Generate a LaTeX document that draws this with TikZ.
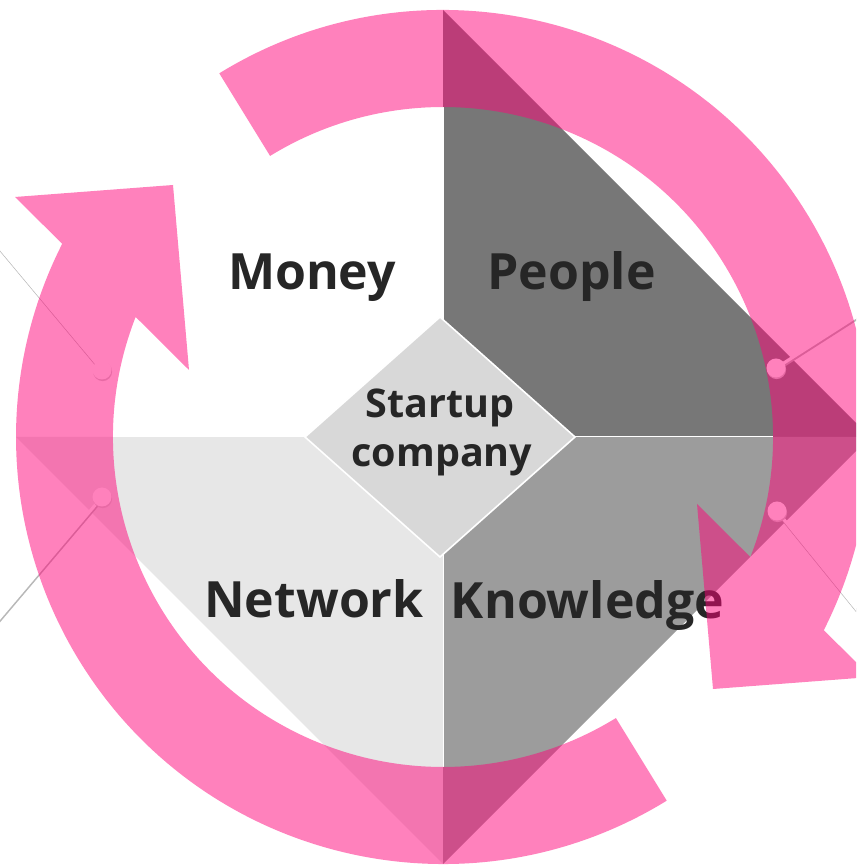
\documentclass[tikz,border=0pt]{standalone}
\usepackage{fontspec}
\usetikzlibrary{calc}
\setmainfont{Open Sans}
\definecolor{arrowpink}{RGB}{255,4,122}
\definecolor{txt}{RGB}{38,38,38}
\definecolor{qdark}{RGB}{119,119,119}
\definecolor{qmid}{RGB}{156,156,156}
\definecolor{qlight}{RGB}{231,231,231}
\definecolor{hub}{RGB}{216,216,216}
\begin{document}
\begin{tikzpicture}[x=1pt,y=1pt,
  sepline/.style={draw=white, line width=1pt},
  hubshape/.style={fill=hub, draw=white, line width=1.6pt, line join=miter},
  quadlabel/.style={anchor=base, inner sep=0pt, text=txt,
    font=\fontsize{50}{52}\selectfont\bfseries},
  hublabel/.style={anchor=base, inner sep=0pt, text=txt,
    font=\fontsize{39.5}{44}\selectfont\bfseries},
  cyclearrow/.style={fill=arrowpink, fill opacity=0.5},
  pinshadow/.style={draw=black!28, line width=2.4pt},
  pinline/.style={draw=white, line width=3.2pt},
  pindot/.style={circle, fill=white, minimum size=19pt, inner sep=0pt},
  pindotshadow/.style={circle, fill=black!18, minimum size=19pt, inner sep=0pt}]

\useasboundingbox (0,0) rectangle (856,866);
\clip (0,0) rectangle (856,866);
\fill[white] (0,0) rectangle (856,866);

% centre of the wheel and the ends of its four quadrant triangles
\coordinate (C) at (443,429);
\begin{scope}[shift={(C)}]
  \coordinate (E) at (427,0);
  \coordinate (N) at (0,427);
  \coordinate (W) at (-427,0);
  \coordinate (S) at (0,-427);
\end{scope}

% quadrant triangles
\fill[white]  (C) -- (W) -- (N) -- cycle;
\fill[qdark]  (C) -- (N) -- (E) -- cycle;
\fill[qlight] (C) -- (W) -- (S) -- cycle;
\fill[qmid]   (C) -- (S) -- (E) -- cycle;
\path[sepline] ($(C)+(0,-330)$) -- ($(C)+(0,330)$);
\path[sepline] ($(C)+(-330,0)$) -- ($(C)+(330,0)$);

% pins on the left and right
\coordinate (ltEnd) at (-20,642);
\coordinate (lbEnd) at (-20,225);
\coordinate (rtEnd) at (876,562);
\coordinate (rbEnd) at (876,233);
\coordinate (ltPin) at (102,496);
\coordinate (lbPin) at (102,369);
\coordinate (rtPin) at (776,498);
\coordinate (rbPin) at (777,355);
\foreach \p/\e in {ltPin/ltEnd, lbPin/lbEnd, rtPin/rtEnd, rbPin/rbEnd} {
  \path[pinshadow] ([shift={(0.6,-2.4)}]\p) -- ([shift={(0.6,-2.4)}]\e);
  \path[pinline] (\p) -- (\e);
  \node[pindotshadow] at ([shift={(0.6,-1.6)}]\p) {};
  \node[pindot] at (\p) {};
}

% quadrant labels
\node[quadlabel] (money) at (312,576) {Money};
\node[quadlabel] (people) at (571.5,576) {People};
\node[quadlabel] (network) at (314,248) {Network};
\node[quadlabel] (knowledge) at (587.5,247) {Knowledge};

% central hub
\coordinate (hT) at (440,549);
\coordinate (hR) at (575,429);
\coordinate (hB) at (440,309);
\coordinate (hL) at (305,429);
\path[hubshape] (hT) -- (hR) -- (hB) -- (hL) -- cycle;
\node[hublabel] (startup) at (440,448) {Startup};
\node[hublabel] (company) at (442,399) {company};

% two circular arrows, one the half-turn of the other
\begin{scope}[shift={(C)}]
  \foreach \r in {0,180} {
    \path[cyclearrow, rotate=\r]
      (-58.4:427) arc[start angle=-58.4, end angle=-206.9, radius=427]
      -- (-428,240) -- (-270,252) -- (-254,67)
      -- (-201.34:330) arc[start angle=-201.34, end angle=-58.4, radius=330]
      -- cycle;
  }
\end{scope}
\end{tikzpicture}
\end{document}
